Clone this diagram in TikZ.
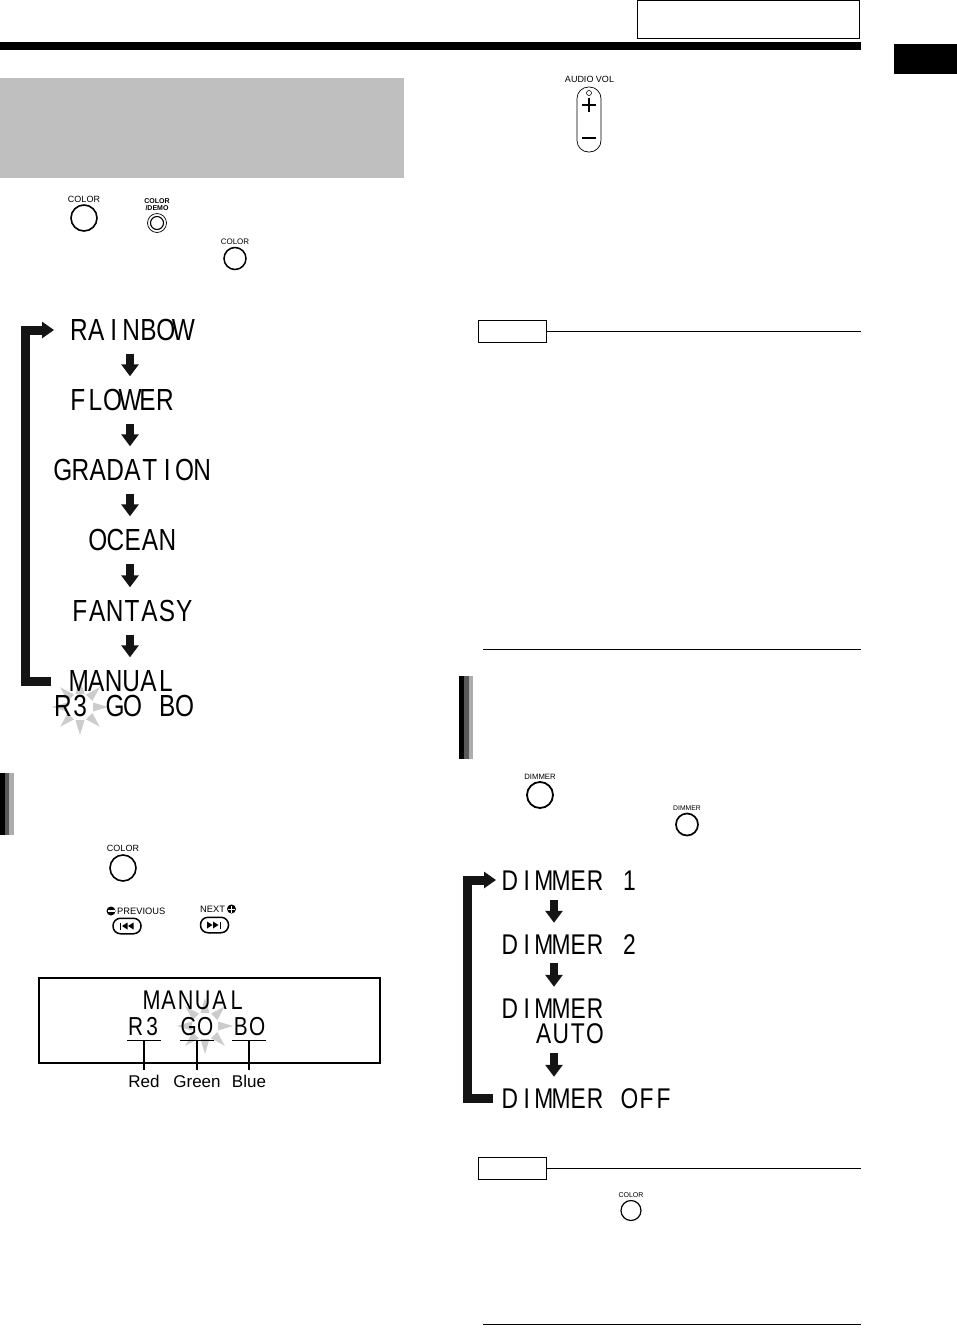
\documentclass[tikz,border=0pt]{standalone}
\usepackage{fontspec}
\setmainfont{Liberation Sans}
\newfontfamily\lcdfont[FakeStretch=0.8]{Liberation Sans}
\usetikzlibrary{arrows.meta}
\newlength{\lcdpitch}
\newcommand{\lcdtext}[1]{\lcdnext#1\relax}
\def\lcdnext#1{\ifx#1\relax\else\makebox[\lcdpitch]{#1}\expandafter\lcdnext\fi}
\definecolor{panelgray}{HTML}{BFBFBF}
\definecolor{burstgray}{HTML}{CCCCCC}
\tikzset{
	lcd/.style={anchor=west, inner sep=0pt, text height=21pt, text depth=0pt, font=\lcdfont\fontsize{30.5}{30.5}\selectfont\setlength{\lcdpitch}{17.4pt}},
	lcdmid/.style={anchor=west, inner sep=0pt, text height=20pt, text depth=0pt, font=\lcdfont\fontsize{28.5}{28.5}\selectfont\setlength{\lcdpitch}{17.1pt}},
	lcdlow/.style={inner sep=0pt, text height=18pt, text depth=5pt, font=\lcdfont\fontsize{26}{26}\selectfont\setlength{\lcdpitch}{16.6pt}},
	btnlabel/.style={inner sep=0pt, font=\fontsize{#1}{#1}\selectfont},
	vallabel/.style={inner sep=0pt, text height=12pt, text depth=0pt, font=\fontsize{17}{17}\selectfont},
	stepar/.style={-{Triangle[width=17pt,length=12pt]}, line width=8pt, draw=black!92, shorten <=13pt, shorten >=13pt},
	loopar/.style={-{Triangle[width=16pt,length=12pt]}, line width=9pt, draw=black!92},
	burst/.pic={
		\foreach \a in {0,45,...,315}
			\fill[burstgray, rotate=\a] (13,-4.5) -- (28,0) -- (13,4.5) -- cycle;
	}
}
\begin{document}
\begin{tikzpicture}[x=1pt, y=-1pt, >=stealth]
	\useasboundingbox (0,0) rectangle (957,1334);
	% page head
	\node[draw, line width=1pt, minimum width=222pt, minimum height=38pt, inner sep=0pt] (headbox) at (748,19) {};
	\fill[black] (0,42) rectangle (861,50);
	\fill[black] (894,44) rectangle (957,74);
	\fill[panelgray] (0,78) rectangle (404,178);
	% side bars
	\fill[black] (0,773) rectangle (5,835);
	\fill[black!65] (5,773) rectangle (9,835);
	\fill[black!32] (9,773) rectangle (14,835);
	\fill[black] (459,676) rectangle (464,759);
	\fill[black!65] (464,676) rectangle (469,759);
	\fill[black!32] (469,676) rectangle (473,759);
	% bursts go under the text
	\pic at (80,707) {burst};
	\pic at (205,1026) {burst};

	% left list
	\coordinate (stepx) at (130,0);
	\node[lcd] (rainbow) at (70,330) {\lcdtext{RAINBOW}};
	\node[lcd] (flower) at (69,400) {\lcdtext{FLOWER}};
	\node[lcd] (gradation) at (54,470) {\lcdtext{GRADATION}};
	\node[lcd] (ocean) at (89,540) {\lcdtext{OCEAN}};
	\node[lcd] (fantasy) at (71,611) {\lcdtext{FANTASY}};
	\node[lcd] (manual) at (70,681) {\lcdtext{MANUAL}};
	\node[lcd] (manualval) at (54,706) {\lcdtext{R3~GO~BO}};
	\draw[stepar] (rainbow.south -| stepx) -- (flower.north -| stepx);
	\draw[stepar] (flower.south -| stepx) -- (gradation.north -| stepx);
	\draw[stepar] (gradation.south -| stepx) -- (ocean.north -| stepx);
	\draw[stepar] (ocean.south -| stepx) -- (fantasy.north -| stepx);
	\draw[stepar] (fantasy.south -| stepx) -- (manual.north -| stepx);
	\draw[loopar, shorten <=19pt, shorten >=16pt] (manual.west) -- ++(-44.5,0) |- (rainbow.west);

	% display
	\node[draw, line width=1.8pt, minimum width=341.5pt, minimum height=85.5pt, inner sep=0pt] (display) at (209.5,1020.5) {};
	\node[lcdmid, font=\lcdfont\fontsize{27}{27}\selectfont\setlength{\lcdpitch}{17pt}] (dispmanual) at (143,999.5) {\lcdtext{MANUAL}};
	\node[lcdlow] (redval) at (144,1028.5) {\lcdtext{R3}};
	\node[lcdlow] (greenval) at (197,1028.5) {\lcdtext{GO}};
	\node[lcdlow] (blueval) at (249,1028.5) {\lcdtext{BO}};
	\node[vallabel] (redlabel) at (144,1081) {Red};
	\node[vallabel] (greenlabel) at (197,1081) {Green};
	\node[vallabel] (bluelabel) at (249,1081) {Blue};
	\draw[line width=1.3pt] (redval.south west) -- (redval.south east);
	\draw[line width=1.3pt] (greenval.south west) -- (greenval.south east);
	\draw[line width=1.3pt] (blueval.south west) -- (blueval.south east);
	\draw[line width=1.1pt, shorten >=5pt] (redval.south) -- (redlabel.north);
	\draw[line width=1.1pt, shorten >=5pt] (greenval.south) -- (greenlabel.north);
	\draw[line width=1.1pt, shorten >=5pt] (blueval.south) -- (bluelabel.north);

	% buttons
	\node[btnlabel=9] (colorlabela) at (84,199) {COLOR};
	\node[draw, circle, line width=1.6pt, minimum size=26pt, inner sep=0pt] (colorbtna) at (84,218) {};
	\node[btnlabel=7, font=\bfseries\fontsize{7}{7}\selectfont, align=center] (demolabel) at (157,204.5) {COLOR\\[-0.5pt]/DEMO};
	\node[draw, circle, line width=0.7pt, minimum size=19pt, inner sep=0pt] (demobtn) at (157,223) {};
	\node[draw, circle, line width=1.1pt, minimum size=13pt, inner sep=0pt] (demoin) at (157,223) {};
	\node[btnlabel=8] (colorlabelb) at (235,242) {COLOR};
	\node[draw, circle, line width=1.5pt, minimum size=22pt, inner sep=0pt] (colorbtnb) at (235,258.5) {};
	\node[btnlabel=9] (colorlabelc) at (123,848) {COLOR};
	\node[draw, circle, line width=1.6pt, minimum size=26pt, inner sep=0pt] (colorbtnc) at (123,868) {};
	\node[btnlabel=7] (colorlabeld) at (631,1195) {COLOR};
	\node[draw, circle, line width=1.2pt, minimum size=20pt, inner sep=0pt] (colorbtnd) at (631,1210.5) {};
	\node[btnlabel=7.7] (dimlabela) at (540,776.5) {DIMMER};
	\node[draw, circle, line width=1.8pt, minimum size=26pt, inner sep=0pt] (dimbtna) at (540,795) {};
	\node[btnlabel=6.8] (dimlabelb) at (687,808) {DIMMER};
	\node[draw, circle, line width=1.7pt, minimum size=22pt, inner sep=0pt] (dimbtnb) at (687,824.5) {};

	% previous and next
	\node[btnlabel=9.3, anchor=west] (prevlabel) at (117,911) {PREVIOUS};
	\fill (111,911) circle (4.5);
	\fill[white] (107.5,910.4) rectangle (114.5,911.6);
	\node[draw, line width=1.5pt, rounded corners=7.5pt, minimum width=28pt, minimum height=15.5pt, inner sep=0pt] (prevbtn) at (127,926) {};
	\draw[line width=1pt] (120.5,922.5) -- (120.5,929.5);
	\fill (122,926) -- (127.5,922.5) -- (127.5,929.5) -- cycle;
	\fill (128,926) -- (133.5,922.5) -- (133.5,929.5) -- cycle;
	\node[btnlabel=9.3, anchor=west] (nextlabel) at (200,909) {NEXT};
	\fill (231.5,909) circle (4.5);
	\fill[white] (228,908.5) rectangle (235,909.5);
	\fill[white] (231,905.5) rectangle (232,912.5);
	\node[draw, line width=1.5pt, rounded corners=7.5pt, minimum width=28pt, minimum height=15.5pt, inner sep=0pt] (nextbtn) at (214.5,925) {};
	\fill (207,921.5) -- (212.5,925) -- (207,928.5) -- cycle;
	\fill (213,921.5) -- (218.5,925) -- (213,928.5) -- cycle;
	\draw[line width=1pt] (220,921.5) -- (220,928.5);

	% volume
	\node[btnlabel=9] (vollabel) at (589.5,79) {AUDIO VOL};
	\node[draw, line width=0.7pt, rounded corners=11.5pt, minimum width=24pt, minimum height=65pt, inner sep=0pt] (volbtn) at (589,119.5) {};
	\draw[line width=0.6pt] (589,93) circle (2.5);
	\draw[line width=1.6pt] (582,105) -- (596,105);
	\draw[line width=1.6pt] (589,98) -- (589,112);
	\draw[line width=1.6pt] (582,138) -- (596,138);

	% first note
	\node[draw, line width=0.9pt, minimum width=68pt, minimum height=22pt, inner sep=0pt] (notea) at (512.5,331) {};
	\coordinate (noteaend) at (861,331);
	\draw[line width=0.9pt] (notea.east) -- (noteaend);
	\draw[line width=0.9pt] (483,649.5) -- (861,649.5);

	% right list
	\coordinate (dimx) at (554,0);
	\node[lcdmid] (dima) at (501,880) {\lcdtext{DIMMER~1}};
	\node[lcdmid] (dimb) at (501,944) {\lcdtext{DIMMER~2}};
	\node[lcdmid] (dimc) at (501,1008) {\lcdtext{DIMMER}};
	\node[lcdmid] (auto) at (535,1033) {\lcdtext{AUTO}};
	\node[lcdmid] (dimoff) at (501,1098) {\lcdtext{DIMMER~OFF}};
	\draw[stepar, shorten <=10pt, shorten >=11pt] (dima.south -| dimx) -- (dimb.north -| dimx);
	\draw[stepar, shorten <=9pt, shorten >=11pt] (dimb.south -| dimx) -- (dimc.north -| dimx);
	\draw[stepar, shorten <=10pt, shorten >=11pt] (auto.south -| dimx) -- (dimoff.north -| dimx);
	\draw[loopar, shorten <=8pt, shorten >=5pt] (dimoff.west) -- ++(-33.5,0) |- (dima.west);

	% second note
	\node[draw, line width=0.9pt, minimum width=68pt, minimum height=22pt, inner sep=0pt] (noteb) at (512.5,1168) {};
	\coordinate (notebend) at (861,1168);
	\draw[line width=0.9pt] (noteb.east) -- (notebend);
	\draw[line width=0.9pt] (483,1324.5) -- (861,1324.5);
\end{tikzpicture}
\end{document}
